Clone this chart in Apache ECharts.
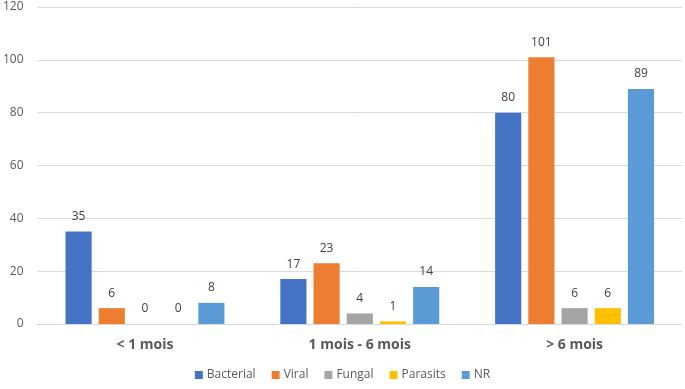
<!DOCTYPE html>
<html>
<head>
<meta charset="utf-8">
<script src="https://cdn.jsdelivr.net/npm/echarts@6/dist/echarts.min.js"></script>
<style>
  html, body { margin: 0; padding: 0; background: #fff; }
  #chart { width: 685px; height: 389px; }
</style>
</head>
<body>
<div id="chart"></div>
<script>
const categories = ['< 1 mois', '1 mois - 6 mois', '> 6 mois']
const seriesNames = ['Bacterial', 'Viral', 'Fungal', 'Parasits', 'NR']
const bacterial = [35, 17, 80]
const viral = [6, 23, 101]
const fungal = [0, 4, 6]
const parasits = [0, 1, 6]
const nr = [8, 14, 89]
const colors = ['#4472C4', '#ED7D31', '#A5A5A5', '#FFC000', '#5B9BD5']

const values = [bacterial, viral, fungal, parasits, nr]
const font = '"Open Sans", "Liberation Sans", sans-serif'

const chart = echarts.init(document.getElementById('chart'))

chart.setOption({
  backgroundColor: '#fff',
  animation: false,
  textStyle: { fontFamily: font },
  grid: {
    left: 37,
    right: 3,
    top: 7,
    bottom: 65
  },
  legend: {
    data: seriesNames,
    bottom: 3,
    left: 'center',
    itemWidth: 8,
    itemHeight: 8,
    itemGap: 16,
    icon: 'rect',
    textStyle: { color: '#595959', fontSize: 12, fontFamily: font, padding: [0, 0, 0, -1] }
  },
  xAxis: {
    type: 'category',
    data: categories,
    axisTick: { show: false },
    axisLine: { lineStyle: { color: '#d9d9d9' } },
    axisLabel: {
      color: '#595959',
      fontSize: 14,
      fontWeight: 'bold',
      margin: 14,
      fontFamily: font
    }
  },
  yAxis: {
    type: 'value',
    min: 0,
    max: 120,
    interval: 20,
    axisLine: { show: false },
    axisTick: { show: false },
    axisLabel: { color: '#595959', fontSize: 12, margin: 14, fontFamily: font },
    splitLine: { lineStyle: { color: '#d9d9d9' } }
  },
  series: seriesNames.map((name, i) => ({
    name: name,
    type: 'bar',
    data: values[i],
    barGap: '27%',
    barCategoryGap: '26%',
    itemStyle: { color: colors[i] },
    label: {
      show: true,
      position: 'top',
      distance: 9,
      color: '#404040',
      fontSize: 12,
      fontFamily: font
    }
  }))
})

window.addEventListener('resize', () => {
  chart.resize()
})
</script>
</body>
</html>
